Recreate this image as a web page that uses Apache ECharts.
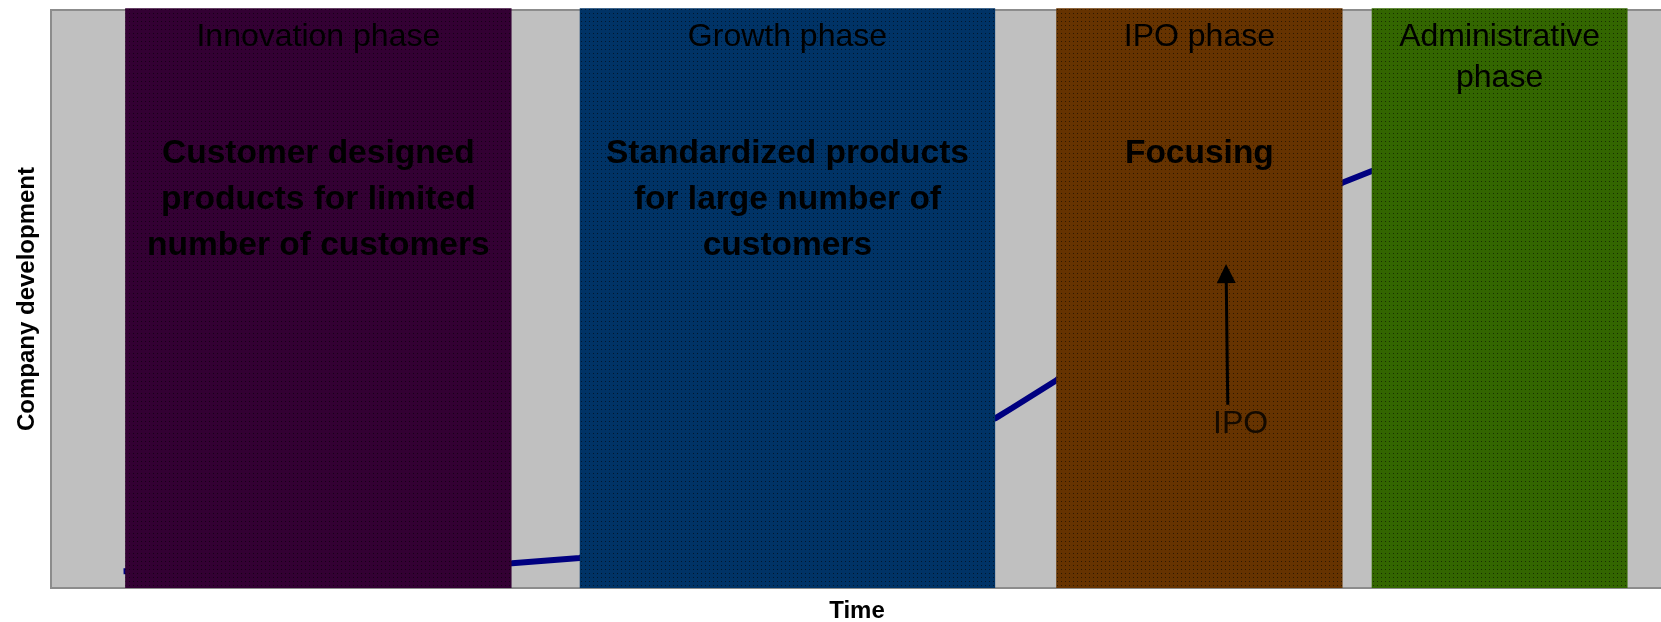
<!DOCTYPE html>
<html>
<head>
<meta charset="utf-8">
<script src="https://cdn.jsdelivr.net/npm/echarts@6/dist/echarts.min.js"></script>
<style>
  html, body { margin: 0; padding: 0; background: #ffffff; }
  #chart { width: 1661px; height: 622px; }
</style>
</head>
<body>
<div id="chart"></div>
<script>
// Company life-cycle: development curve over time, split into four phases
const phaseNames = ['Innovation phase', 'Growth phase', 'IPO phase', 'Administrative\nphase'];
const phaseTexts = [
  'Customer designed\nproducts for limited\nnumber of customers',
  'Standardized products\nfor large number of\ncustomers',
  'Focusing',
  ''
];
const phaseStart = [4.6, 32.8, 62.36, 81.93];
const phaseEnd = [28.57, 58.57, 80.12, 97.8];
const phaseColors = ['#330033', '#003366', '#663300', '#336600'];

// development curve (time, development)
const curveTime = [4.5, 28.6, 32.8, 45.0, 58.6, 59.6, 62.4, 71.0, 80.1, 81.9, 90.0, 96.0];
const curveValue = [2.9, 4.3, 5.2, 16.5, 29.4, 31.1, 36.0, 55.0, 70.1, 72.1, 80.0, 84.0];

// IPO marker: arrow from label up to the phase text
const ipoFrom = [73.0, 31.7];
const ipoTo = [72.9, 54.4];
const ipoLabel = 'IPO';

const phaseTop = 100.3;

function dottedPattern(color) {
  const c = document.createElement('canvas');
  c.width = 4; c.height = 4;
  const ctx = c.getContext('2d');
  ctx.fillStyle = color;
  ctx.fillRect(0, 0, 4, 4);
  ctx.fillStyle = 'rgba(0,0,0,0.55)';
  ctx.fillRect(1, 1, 1, 1);
  return c;
}
const patterns = phaseColors.map(dottedPattern);

const chart = echarts.init(document.getElementById('chart'), null, { renderer: 'canvas' });

const phaseData = phaseNames.map((n, i) => [phaseStart[i], phaseEnd[i], i]);

chart.setOption({
  animation: false,
  grid: {
    left: 51, right: -2, top: 10, bottom: 34,
    outerBoundsMode: 'none',
    show: true, backgroundColor: '#c0c0c0', borderColor: '#8c8c8c', borderWidth: 2
  },
  xAxis: {
    type: 'value', min: 0, max: 100,
    name: 'Time', nameLocation: 'middle', nameGap: 11,
    nameTextStyle: { fontFamily: 'Liberation Sans', fontWeight: 'bold', fontSize: 24, color: '#000' },
    axisLine: { show: false }, axisTick: { show: false }, axisLabel: { show: false }, splitLine: { show: false }
  },
  yAxis: {
    type: 'value', min: 0, max: 100,
    name: 'Company development', nameLocation: 'middle', nameGap: 12, nameRotate: 90,
    nameTextStyle: { fontFamily: 'Liberation Sans', fontWeight: 'bold', fontSize: 24, color: '#000' },
    axisLine: { show: false }, axisTick: { show: false }, axisLabel: { show: false }, splitLine: { show: false }
  },
  series: [
    {
      type: 'line',
      z: 1,
      data: curveTime.map((t, i) => [t, curveValue[i]]),
      showSymbol: false,
      lineStyle: { color: '#000080', width: 6 }
    },
    {
      type: 'custom',
      z: 2,
      data: phaseData,
      renderItem: function (params, api) {
        const i = api.value(2);
        const p0 = api.coord([api.value(0), phaseTop]);
        const p1 = api.coord([api.value(1), 0]);
        const cx = (p0[0] + p1[0]) / 2;
        const children = [
          {
            type: 'rect',
            shape: { x: p0[0], y: p0[1], width: p1[0] - p0[0], height: p1[1] - p0[1] },
            style: { fill: { image: patterns[i], repeat: 'repeat' } }
          },
          {
            type: 'text',
            style: {
              x: cx, y: p0[1] + 8,
              text: phaseNames[i],
              fill: '#000',
              font: 'normal 32px "Liberation Sans", Arial, sans-serif',
              lineHeight: 41,
              align: 'center', verticalAlign: 'top'
            }
          }
        ];
        if (phaseTexts[i]) {
          children.push({
            type: 'text',
            style: {
              x: cx, y: p0[1] + 122,
              text: phaseTexts[i],
              fill: '#000',
              font: 'bold 33.5px "Liberation Sans", Arial, sans-serif',
              lineHeight: 46,
              align: 'center', verticalAlign: 'top'
            }
          });
        }
        return { type: 'group', children: children };
      }
    },
    {
      type: 'scatter',
      z: 3,
      data: [[ipoFrom[0] + 0.8, ipoFrom[1] - 3.3]],
      symbolSize: 0,
      label: {
        show: true, formatter: ipoLabel, position: 'inside',
        fontFamily: 'Liberation Sans', fontSize: 32, color: '#000'
      },
      markLine: {
        silent: true,
        symbol: ['none', 'triangle'],
        symbolSize: [19, 19],
        label: { show: false },
        lineStyle: { color: '#000', width: 3, type: 'solid' },
        data: [[{ coord: ipoFrom }, { coord: ipoTo }]]
      }
    }
  ]
});
</script>
</body>
</html>
